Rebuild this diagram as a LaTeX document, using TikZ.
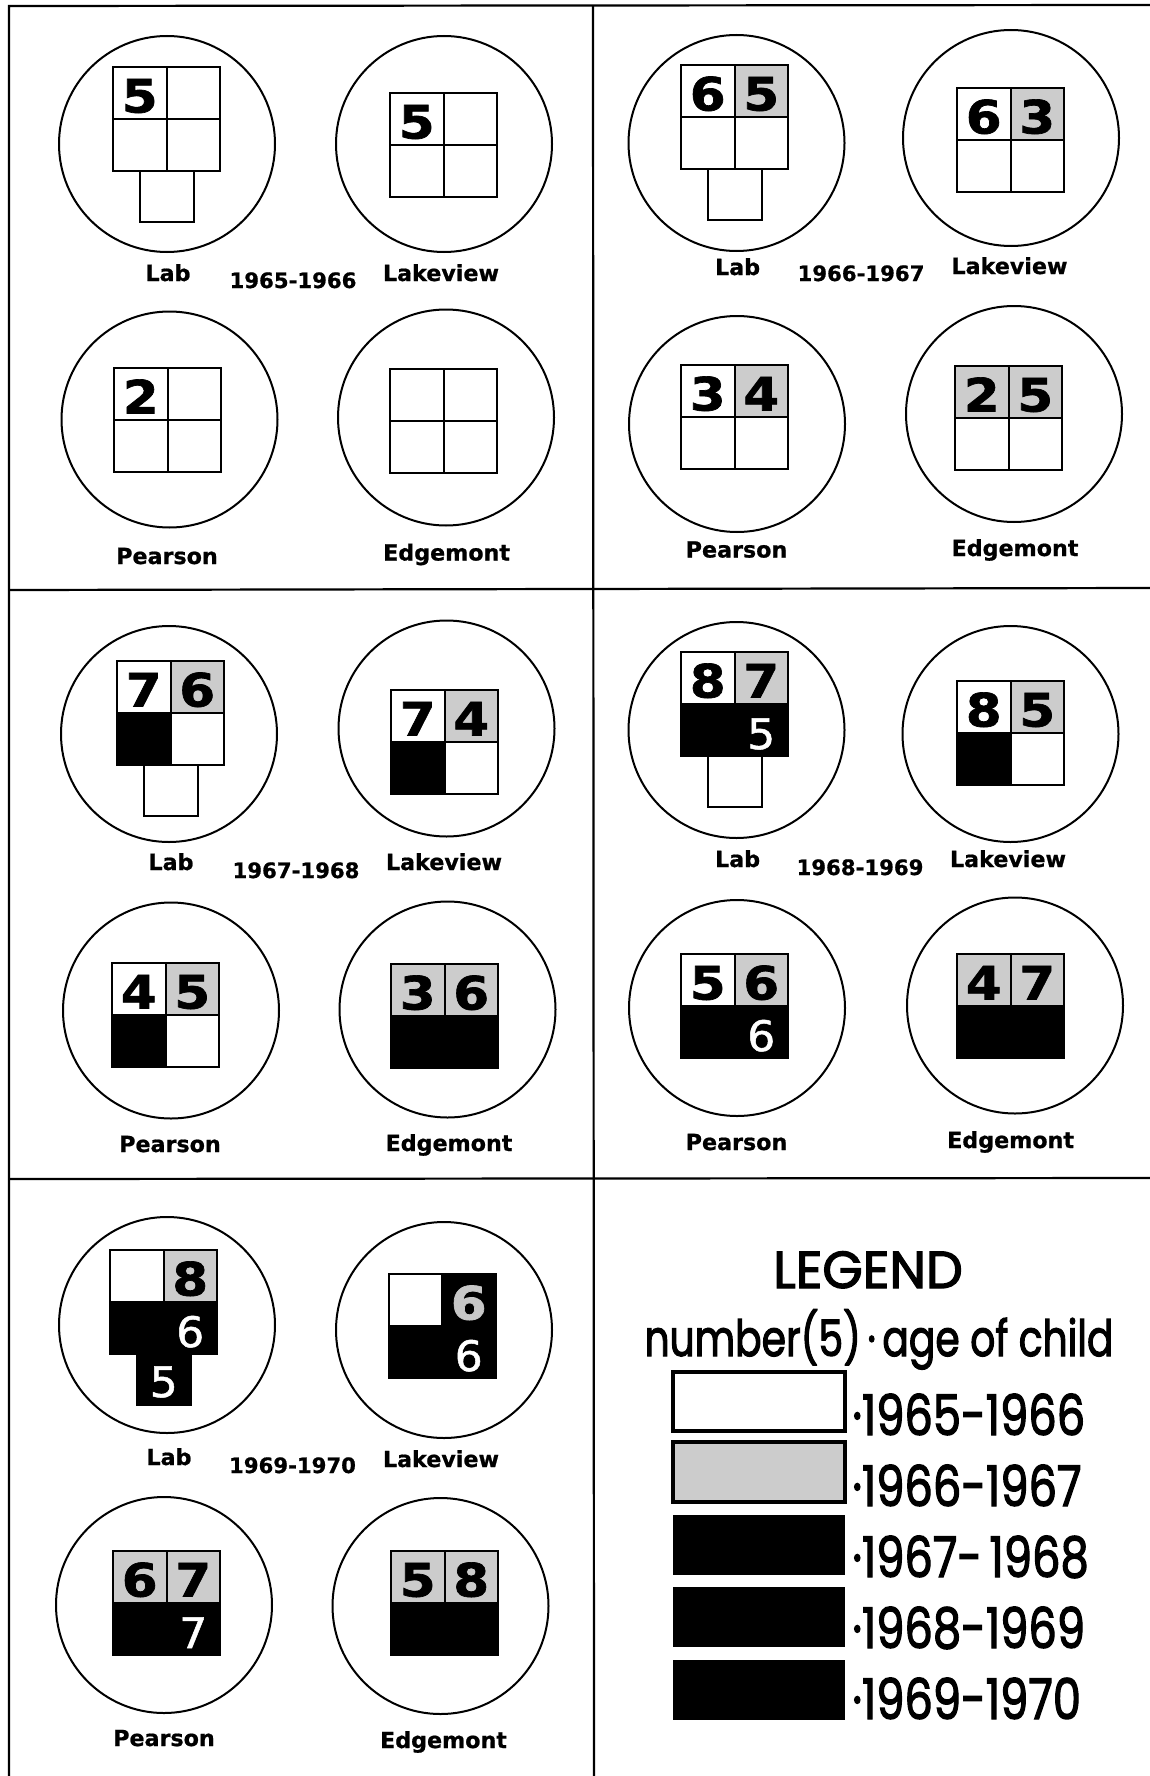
\documentclass[tikz,border=0pt]{standalone}
\usepackage{fontspec}
\setmainfont{DejaVu Sans}
\newfontfamily\lblfont{DejaVu Sans}[FakeBold=0.8]
\newfontfamily\digfont{DejaVu Sans}[FakeStretch=1.12, FakeBold=1.5]
\newfontfamily\wdigfont{DejaVu Sans}[FakeStretch=1.05, FakeBold=1.2]
\newfontfamily\legfont{Poppins}[FakeBold=2.5]
\newcommand\cxa{26.75}
\newcommand\cxb{80.25}
\newcommand\cxm{53.75}
\newcommand\rya{45.5}
\newcommand\ryb{97}
\newcommand\ryc{147}
% grid of four cells: x, y, TL, TR, BL, BR fills
\newcommand\schgrid[6]{%
  \begin{scope}[shift={(#1,#2)}]
    \fill[#3] (0,0) rectangle (53.5,52);
    \fill[#4] (53.5,0) rectangle (107,52);
    \fill[#5] (0,52) rectangle (53.5,104);
    \fill[#6] (53.5,52) rectangle (107,104);
    \draw[gl] (0,0) rectangle (107,104) (53.5,0) -- (53.5,104) (0,52) -- (107,52);
  \end{scope}}
\newcommand\schannex[3]{%
  \begin{scope}[shift={(#1,#2)}]
    \filldraw[gl,#3] (27,104) rectangle (80.5,155);
  \end{scope}}
% digit: name, grid x, grid y, dx, dy, style, text
\newcommand\schdig[7]{%
  \begin{scope}[shift={(#2,#3)}]
    \node[#6] (#1) at (#4,#5) {#7};
  \end{scope}}
\tikzset{
  frameline/.style={line width=1.1pt},
  ring/.style={circle, draw=black, line width=1pt, minimum size=108pt, inner sep=0pt},
  gl/.style={draw=black, line width=1pt},
  c65/.style={fill=white},
  c66/.style={fill=black!20},
  cblk/.style={fill=black},
  lbl/.style={font=\lblfont\bfseries\fontsize{11.1}{12}\selectfont, anchor=base, inner sep=0pt},
  yr/.style={font=\lblfont\bfseries\fontsize{10.6}{12}\selectfont, anchor=base, inner sep=0pt},
  dk/.style={font=\digfont\bfseries\fontsize{23}{24}\selectfont, anchor=base, inner sep=0pt, text=black},
  dw/.style={font=\wdigfont\fontsize{21}{22}\selectfont, anchor=base, inner sep=0pt, text=white},
  dgr/.style={font=\digfont\bfseries\fontsize{23}{24}\selectfont, anchor=base, inner sep=0pt, text=black!22},
  legbox/.style={draw=black, line width=1.7pt},
  legtitle/.style={font=\legfont\fontsize{26}{28}\selectfont, anchor=base, inner sep=0pt},
  legsub/.style={font=\legfont\fontsize{25}{28}\selectfont, anchor=base, inner sep=0pt},
  legyr/.style={font=\legfont\fontsize{28}{30}\selectfont, anchor=base west, inner sep=0pt},
}
\begin{document}
\begin{tikzpicture}[x=0.5pt, y=-0.5pt]
\fill[white] (0,0) rectangle (1150,1776);
\useasboundingbox (0,0) rectangle (1150,1776);
% frame
\coordinate (fTL) at (9,6);
\coordinate (fTR) at (1150,5);
\coordinate (fBL) at (9,1776);
\coordinate (mT) at (593,6);
\coordinate (mB) at (594,1776);
\coordinate (hAL) at (9,590);
\coordinate (hAR) at (1150,588);
\coordinate (hBL) at (9,1179);
\coordinate (hBR) at (1150,1178);
\draw[frameline] (fBL) -- (fTL) -- (fTR);
\draw[frameline] (mT) -- (mB);
\draw[frameline] (hAL) -- (hAR);
\draw[frameline] (hBL) -- (hBR);

% ===== 1965-1966 =====
\node[ring] (labA) at (167,144) {};
\schgrid{113}{67}{c65}{c65}{c65}{c65}
\schannex{113}{67}{c65}
\schdig{labAa}{113}{67}{\cxa}{\rya}{dk}{5}
\node[lbl] (labAn) at (168,281) {Lab};
\node[yr] (yrA) at (293,288) {1965-1966};
\node[ring] (lakA) at (444,144) {};
\schgrid{390}{93}{c65}{c65}{c65}{c65}
\schdig{lakAa}{390}{93}{\cxa}{\rya}{dk}{5}
\node[lbl] (lakAn) at (441,281) {Lakeview};
\node[ring] (peaA) at (169.5,419.5) {};
\schgrid{114}{368}{c65}{c65}{c65}{c65}
\schdig{peaAa}{114}{368}{\cxa}{\rya}{dk}{2}
\node[lbl] (peaAn) at (167,564) {Pearson};
\node[ring] (edgA) at (446,417.5) {};
\schgrid{390}{369}{c65}{c65}{c65}{c65}
\node[lbl] (edgAn) at (446.6,560.5) {Edgemont};

% ===== 1966-1967 =====
\node[ring] (labB) at (736.5,143) {};
\schgrid{681}{65}{c65}{c66}{c65}{c65}
\schannex{681}{65}{c65}
\schdig{labBa}{681}{65}{\cxa}{\rya}{dk}{6}
\schdig{labBb}{681}{65}{\cxb}{\rya}{dk}{5}
\node[lbl] (labBn) at (737.6,275) {Lab};
\node[yr] (yrB) at (861,281) {1966-1967};
\node[ring] (lakB) at (1011,138) {};
\schgrid{957}{88}{c65}{c66}{c65}{c65}
\schdig{lakBa}{957}{88}{\cxa}{\rya}{dk}{6}
\schdig{lakBb}{957}{88}{\cxb}{\rya}{dk}{3}
\node[lbl] (lakBn) at (1009.5,274) {Lakeview};
\node[ring] (peaB) at (737,424) {};
\schgrid{681}{365}{c65}{c66}{c65}{c65}
\schdig{peaBa}{681}{365}{\cxa}{\rya}{dk}{3}
\schdig{peaBb}{681}{365}{\cxb}{\rya}{dk}{4}
\node[lbl] (peaBn) at (736.5,557.5) {Pearson};
\node[ring] (edgB) at (1014,414) {};
\schgrid{955}{366}{c66}{c66}{c65}{c65}
\schdig{edgBa}{955}{366}{\cxa}{\rya}{dk}{2}
\schdig{edgBb}{955}{366}{\cxb}{\rya}{dk}{5}
\node[lbl] (edgBn) at (1015,556) {Edgemont};

% ===== 1967-1968 =====
\node[ring] (labC) at (169,734) {};
\schgrid{117}{661}{c65}{c66}{cblk}{c65}
\schannex{117}{661}{c65}
\schdig{labCa}{117}{661}{\cxa}{\rya}{dk}{7}
\schdig{labCb}{117}{661}{\cxb}{\rya}{dk}{6}
\node[lbl] (labCn) at (171,870) {Lab};
\node[yr] (yrC) at (296,878) {1967-1968};
\node[ring] (lakC) at (446.5,728.5) {};
\schgrid{391}{690}{c65}{c66}{cblk}{c65}
\schdig{lakCa}{391}{690}{\cxa}{\rya}{dk}{7}
\schdig{lakCb}{391}{690}{\cxb}{\rya}{dk}{4}
\node[lbl] (lakCn) at (444,870) {Lakeview};
\node[ring] (peaC) at (171,1010.5) {};
\schgrid{112}{963}{c65}{c66}{cblk}{c65}
\schdig{peaCa}{112}{963}{\cxa}{\rya}{dk}{4}
\schdig{peaCb}{112}{963}{\cxb}{\rya}{dk}{5}
\node[lbl] (peaCn) at (170,1152) {Pearson};
\node[ring] (edgC) at (447.5,1009.5) {};
\schgrid{391}{964}{c66}{c66}{cblk}{cblk}
\schdig{edgCa}{391}{964}{\cxa}{\rya}{dk}{3}
\schdig{edgCb}{391}{964}{\cxb}{\rya}{dk}{6}
\node[lbl] (edgCn) at (449,1151) {Edgemont};

% ===== 1968-1969 =====
\node[ring] (labD) at (736.5,730) {};
\schgrid{681}{652}{c65}{c66}{cblk}{cblk}
\schannex{681}{652}{c65}
\schdig{labDa}{681}{652}{\cxa}{\rya}{dk}{8}
\schdig{labDb}{681}{652}{\cxb}{\rya}{dk}{7}
\schdig{labDc}{681}{652}{\cxb}{\ryb}{dw}{5}
\node[lbl] (labDn) at (737.6,867) {Lab};
\node[yr] (yrD) at (860,875) {1968-1969};
\node[ring] (lakD) at (1010.5,734) {};
\schgrid{957}{681}{c65}{c66}{cblk}{c65}
\schdig{lakDa}{957}{681}{\cxa}{\rya}{dk}{8}
\schdig{lakDb}{957}{681}{\cxb}{\rya}{dk}{5}
\node[lbl] (lakDn) at (1008,867) {Lakeview};
\node[ring] (peaD) at (737,1008) {};
\schgrid{681}{954}{c65}{c66}{cblk}{cblk}
\schdig{peaDa}{681}{954}{\cxa}{\rya}{dk}{5}
\schdig{peaDb}{681}{954}{\cxb}{\rya}{dk}{6}
\schdig{peaDc}{681}{954}{\cxb}{\ryb}{dw}{6}
\node[lbl] (peaDn) at (736.5,1150) {Pearson};
\node[ring] (edgD) at (1015,1005.5) {};
\schgrid{957}{954}{c66}{c66}{cblk}{cblk}
\schdig{edgDa}{957}{954}{\cxa}{\rya}{dk}{4}
\schdig{edgDb}{957}{954}{\cxb}{\rya}{dk}{7}
\node[lbl] (edgDn) at (1010.6,1148) {Edgemont};

% ===== 1969-1970 =====
\node[ring] (labE) at (167,1325) {};
\schgrid{110}{1250}{c65}{c66}{cblk}{cblk}
\schannex{110}{1250}{cblk}
\schdig{labEb}{110}{1250}{\cxb}{\rya}{dk}{8}
\schdig{labEc}{110}{1250}{\cxb}{\ryb}{dw}{6}
\schdig{labEd}{110}{1250}{\cxm}{\ryc}{dw}{5}
\node[lbl] (labEn) at (169,1465) {Lab};
\node[yr] (yrE) at (292.5,1473) {1969-1970};
\node[ring] (lakE) at (444,1330) {};
\schgrid{388.5}{1274}{c65}{cblk}{cblk}{cblk}
\schdig{lakEb}{388.5}{1274}{\cxb}{\rya}{dgr}{6}
\schdig{lakEc}{388.5}{1274}{\cxb}{\ryb}{dw}{6}
\node[lbl] (lakEn) at (441,1467) {Lakeview};
\node[ring] (peaE) at (164,1605) {};
\schgrid{113}{1551}{c66}{c66}{cblk}{cblk}
\schdig{peaEa}{113}{1551}{\cxa}{\rya}{dk}{6}
\schdig{peaEb}{113}{1551}{\cxb}{\rya}{dk}{7}
\schdig{peaEc}{113}{1551}{\cxb}{\ryb}{dw}{7}
\node[lbl] (peaEn) at (164,1746) {Pearson};
\node[ring] (edgE) at (440.5,1606) {};
\schgrid{391}{1551}{c66}{c66}{cblk}{cblk}
\schdig{edgEa}{391}{1551}{\cxa}{\rya}{dk}{5}
\schdig{edgEb}{391}{1551}{\cxb}{\rya}{dk}{8}
\node[lbl] (edgEn) at (443.5,1748) {Edgemont};

% ===== Legend =====
\node[legtitle] (legT) at (868,1288) {LEGEND};
\node[legsub] (legS) at (879,1356) {\scalebox{0.785}[1]{number(5)\,·\,age of child}};
\filldraw[legbox, fill=white] (673,1372) rectangle (845,1431);
\filldraw[legbox, fill=black!20] (673,1442) rectangle (845,1502);
\fill[black] (673,1515) rectangle (845,1575);
\fill[black] (673,1587) rectangle (845,1647);
\fill[black] (673,1660) rectangle (845,1720);
\node[legyr] (legA) at (852,1435) {\scalebox{0.8}[1]{·1965-1966}};
\node[legyr] (legB) at (852,1506) {\scalebox{0.8}[1]{·1966-1967}};
\node[legyr] (legC) at (852,1577) {\scalebox{0.8}[1]{·1967-\,1968}};
\node[legyr] (legD) at (852,1648) {\scalebox{0.8}[1]{·1968-1969}};
\node[legyr] (legE) at (852,1719) {\scalebox{0.8}[1]{·1969-1970}};
\end{tikzpicture}
\end{document}
